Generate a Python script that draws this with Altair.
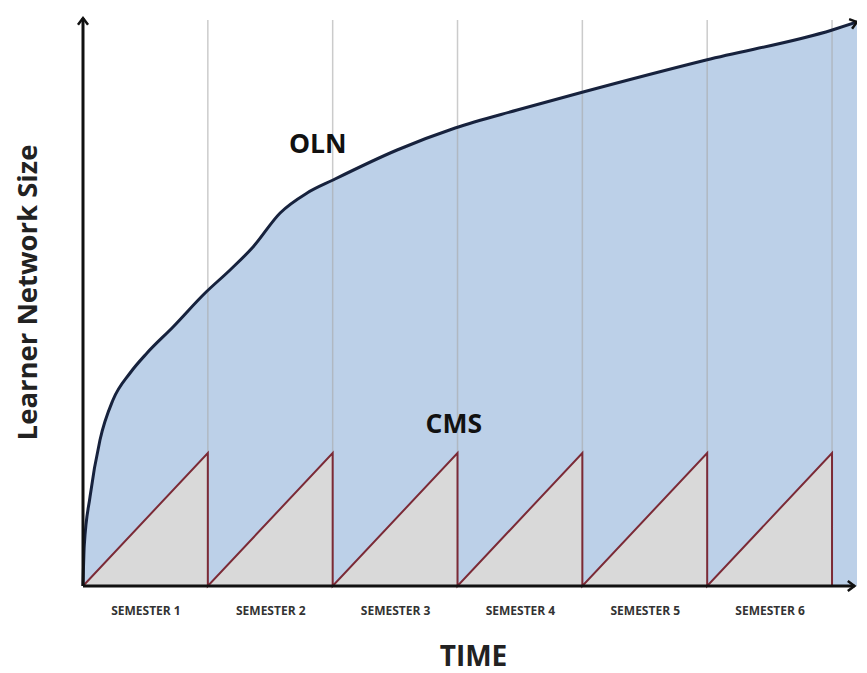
import altair as alt
import pandas as pd

# OLN curve (x in semesters, y in arbitrary units)
oln_x = [0, 0.01, 0.056, 0.136, 0.24, 0.377, 0.513, 0.721, 0.978, 1.178, 1.362, 1.579, 1.795, 2.003, 2.516, 2.981, 3.478, 4.006, 4.992, 6.002, 6.2]
oln_y = [0, 40, 89, 146, 186, 213, 233, 259, 293, 316, 339, 373, 393, 406, 436, 458, 476, 494, 526, 556, 564]

# CMS sawtooth
cms_x = [0, 0.9999, 1, 1.9999, 2, 2.9999, 3, 3.9999, 4, 4.9999, 5, 5.9999, 6]
cms_y = [0, 133, 0, 133, 0, 133, 0, 133, 0, 133, 0, 133, 0]

semester_bounds = [1, 2, 3, 4, 5, 6]
semester_centers = [0.5, 1.5, 2.5, 3.5, 4.5, 5.5]
labels_text = ["OLN", "CMS"]
labels_x = [1.88, 2.97]
labels_y = [441, 161]

X_MAX = 6.2
Y_MAX = 568

oln = pd.DataFrame({"x": oln_x, "y": oln_y, "o": list(range(len(oln_x)))})
cms = pd.DataFrame({"x": cms_x, "y": cms_y, "o": list(range(len(cms_x)))})
vlines = pd.DataFrame({"x": semester_bounds, "y0": [0] * 6, "y1": [566] * 6})
ann = pd.DataFrame({"t": labels_text, "x": labels_x, "y": labels_y})
axes_df = pd.DataFrame({"x": [0], "y": [0], "xe": [6.18], "ye": [Y_MAX]})

xs = alt.Scale(domain=[0, X_MAX], nice=False, zero=False)
ys = alt.Scale(domain=[0, Y_MAX], nice=False)

xaxis = alt.Axis(
    values=semester_centers, labelExpr="'SEMESTER ' + (datum.value + 0.5)",
    domain=False, ticks=False, grid=False, labelPadding=19,
    labelFont="Open Sans", labelFontWeight="bold", labelFontSize=12, labelColor="#333333",
    title="TIME", titleFont="Open Sans", titleFontWeight="bold", titleFontSize=28,
    titleColor="#222222", titleX=390, titleY=71, titleBaseline="middle", titleAnchor="middle",
)
yaxis = alt.Axis(
    labels=False, domain=False, ticks=False, grid=False,
    title="Learner Network Size", titleFont="Open Sans", titleFontWeight="bold", titleFontSize=27.5,
    titleColor="#222222", titleX=-55, titleY=274, titleAngle=270, titleBaseline="middle",
    titleAlign="center",
)

base_x = alt.X("x:Q", scale=xs, axis=xaxis)
base_y = alt.Y("y:Q", scale=ys, axis=yaxis, stack=None)

area_oln = alt.Chart(oln).mark_area(color="#bcd0e8", interpolate="monotone").encode(
    x=base_x, y=base_y)

grid = alt.Chart(vlines).mark_rule(color="#a9a9a9", strokeWidth=1.5, opacity=0.6).encode(
    x=alt.X("x:Q", scale=xs), y=alt.Y("y0:Q", scale=ys), y2="y1:Q")

area_cms = alt.Chart(cms).mark_area(color="#d9d9d9").encode(
    x=alt.X("x:Q", scale=xs), y=alt.Y("y:Q", scale=ys, stack=None))
line_cms = alt.Chart(cms).mark_line(color="#7b2a36", strokeWidth=2).encode(
    x=alt.X("x:Q", scale=xs), y=alt.Y("y:Q", scale=ys), order="o:Q")

line_oln = alt.Chart(oln).mark_line(color="#17223d", strokeWidth=3, interpolate="monotone").encode(
    x=alt.X("x:Q", scale=xs), y=alt.Y("y:Q", scale=ys), order="o:Q")

yaxis_line = alt.Chart(axes_df).mark_rule(color="#111111", strokeWidth=3).encode(
    x=alt.X("x:Q", scale=xs), y=alt.Y("y:Q", scale=ys), y2="ye:Q")
xaxis_line = alt.Chart(axes_df).mark_rule(color="#111111", strokeWidth=3).encode(
    x=alt.X("x:Q", scale=xs), x2="xe:Q", y=alt.Y("y:Q", scale=ys))

chev = "M-1,-0.75L0,0L-1,0.75"
arrows = pd.DataFrame({
    "x": [0, 6.18, 6.2],
    "y": [Y_MAX, 0, 564],
    "a": [270, 0, 343],
})
arrow_marks = alt.Chart(arrows).mark_point(shape=chev, filled=False, color="#111111",
                                           strokeWidth=2.5, size=180, opacity=1).encode(
    x=alt.X("x:Q", scale=xs), y=alt.Y("y:Q", scale=ys), angle=alt.Angle("a:Q", scale=None))

text = alt.Chart(ann).mark_text(font="Open Sans", fontWeight="bold", fontSize=26.5,
                                color="#111111").encode(
    x=alt.X("x:Q", scale=xs), y=alt.Y("y:Q", scale=ys), text="t:N")

chart = alt.layer(area_oln, grid, area_cms, line_cms, line_oln, yaxis_line, xaxis_line,
                  arrow_marks, text).properties(
    width=774, height=568,
    autosize=alt.AutoSizeParams(type="none"),
    padding={"left": 75, "top": 10, "right": 0, "bottom": 87},
    background="white",
).configure_view(stroke=None)

chart.save("out.html", embed_options={"renderer": "svg", "actions": False})
